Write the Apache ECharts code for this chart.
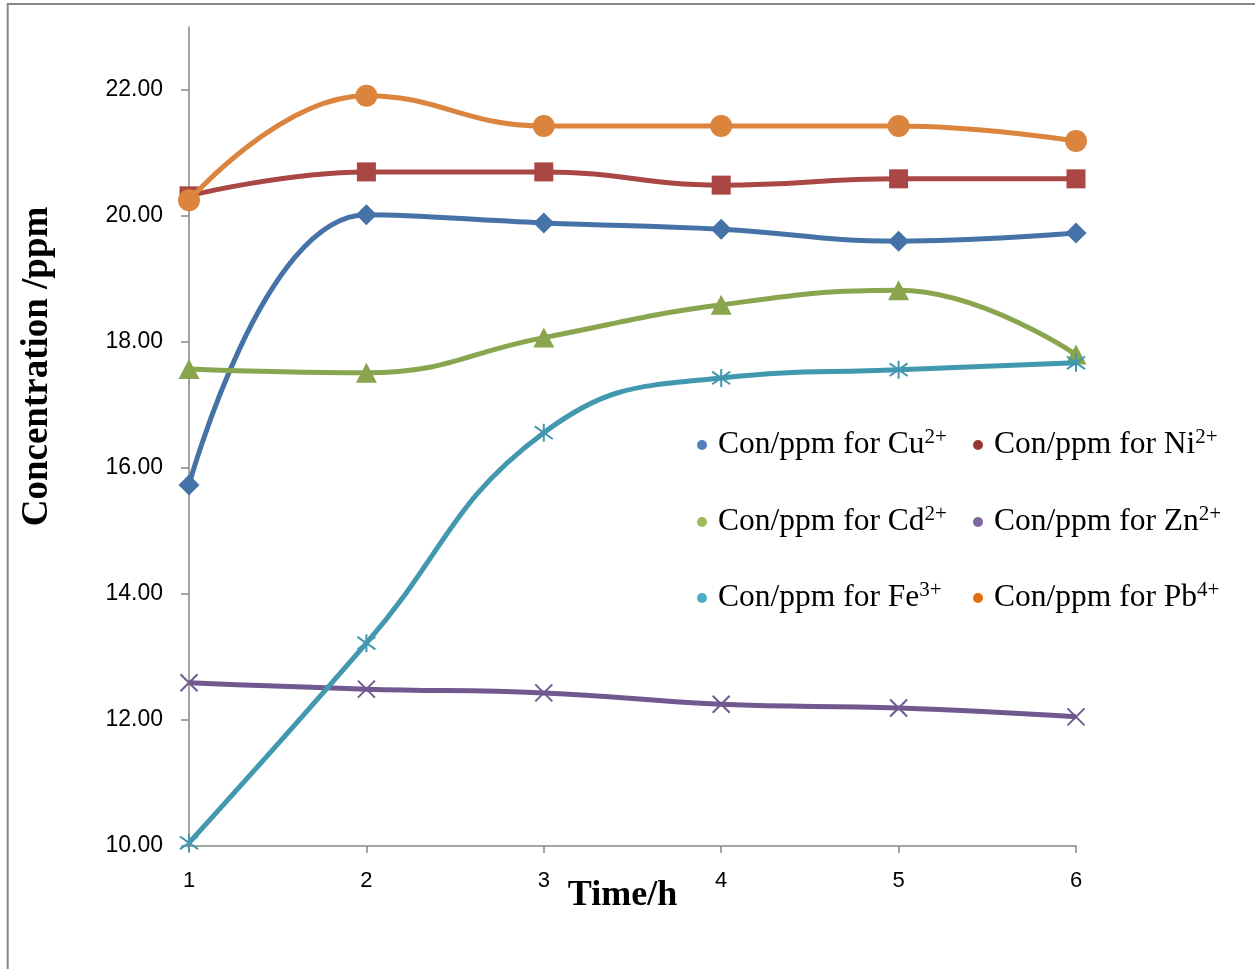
<!DOCTYPE html>
<html>
<head>
<meta charset="utf-8">
<title>Concentration vs time</title>
<script src="https://cdn.jsdelivr.net/npm/echarts@6/dist/echarts.min.js"></script>
<style>
  html, body { margin: 0; padding: 0; background: #ffffff; }
  #chart { width: 1255px; height: 969px; }
</style>
</head>
<body>
<div id="chart"></div>
<script>
// Sampling times (h)
const times = ['1', '2', '3', '4', '5', '6'];

// Concentration (ppm) of each metal ion at each time
const cu = [15.73, 20.02, 19.89, 19.79, 19.60, 19.73];
const ni = [20.32, 20.70, 20.70, 20.49, 20.59, 20.59];
const cd = [17.57, 17.51, 18.07, 18.59, 18.82, 17.80];
const zn = [12.59, 12.49, 12.43, 12.25, 12.19, 12.05];
const fe = [10.05, 13.22, 16.56, 17.43, 17.56, 17.67];
const pb = [20.25, 21.91, 21.43, 21.43, 21.43, 21.19];

// Ion symbols and their charges, in series order
const ions = ['Cu', 'Ni', 'Cd', 'Zn', 'Fe', 'Pb'];
const charges = ['2+', '2+', '2+', '2+', '3+', '4+'];

// Value-axis tick labels
const yTicks = [10, 12, 14, 16, 18, 20, 22];

const seriesData = [cu, ni, cd, zn, fe, pb];
const lineColors = ['#4572A7', '#AA4643', '#89A54E', '#71588F', '#4198AF', '#DB843D'];
const legendColors = ['#4F81BD', '#953735', '#9BBB59', '#8064A2', '#4BACC6', '#E46C0A'];

const crossPath = 'path://M0,0L10,10M10,0L0,10';
const starPath = 'path://M0,1.5L10,8.5M10,1.5L0,8.5M5,0L5,10';
const markers = [
  { symbol: 'diamond', size: [21, 21], stroke: false },
  { symbol: 'rect', size: [19, 19], stroke: false },
  { symbol: 'triangle', size: [21, 20], stroke: false },
  { symbol: crossPath, size: [17, 17], stroke: true },
  { symbol: starPath, size: [18, 18], stroke: true },
  { symbol: 'circle', size: [22, 22], stroke: false }
];

const names = ions.map((ion, i) => 'Con/ppm for ' + ion + charges[i]);

const series = names.map((name, i) => {
  const m = markers[i];
  return {
    name: name,
    type: 'line',
    data: seriesData[i],
    smooth: 0.45,
    symbol: m.symbol,
    symbolSize: m.size,
    showSymbol: true,
    lineStyle: { color: lineColors[i], width: 5 },
    itemStyle: m.stroke
      ? { color: 'rgba(0,0,0,0)', borderColor: lineColors[i], borderWidth: 2 }
      : { color: lineColors[i], borderWidth: 0 },
    emphasis: { disabled: true },
    z: 2 + i
  };
});

// Legend items laid out in two columns and three rows
const colLeft = [697, 973];
const rowTop = [427, 504, 580];
const legends = names.map((name, i) => ({
  left: colLeft[i % 2],
  top: rowTop[Math.floor(i / 2)],
  orient: 'horizontal',
  selectedMode: false,
  icon: 'circle',
  itemWidth: 22,
  itemHeight: 10,
  padding: 0,
  data: [{ name: name, itemStyle: { color: legendColors[i], borderWidth: 0 } }],
  formatter: () => '{b|Con/ppm for ' + ions[i] + '}{s|' + charges[i] + '}',
  textStyle: {
    rich: {
      b: { fontFamily: 'Liberation Serif', fontSize: 31.5, color: '#000', lineHeight: 36 },
      s: { fontFamily: 'Liberation Serif', fontSize: 21, color: '#000', lineHeight: 27, verticalAlign: 'top' }
    }
  }
}));

const chart = echarts.init(document.getElementById('chart'), null, { renderer: 'canvas' });

chart.setOption({
  animation: false,
  backgroundColor: '#ffffff',
  graphic: [{
    type: 'rect',
    shape: { x: 7.7, y: 4, width: 1300, height: 1000 },
    style: { fill: 'none', stroke: '#878787', lineWidth: 2 },
    silent: true,
    z: 0
  }],
  grid: { left: 189, right: 179, top: 27, bottom: 123, containLabel: false },
  legend: legends,
  xAxis: {
    type: 'category',
    data: times,
    boundaryGap: false,
    name: 'Time/h',
    nameLocation: 'middle',
    nameGap: 32,
    nameMoveOverlap: false,
    nameTextStyle: {
      fontFamily: 'Liberation Serif', fontWeight: 'bold', fontSize: 36, color: '#000',
      padding: [0, 20, 0, 0]
    },
    axisLine: { lineStyle: { color: '#868686', width: 1.5 } },
    axisTick: { show: true, length: 7, alignWithLabel: true, lineStyle: { color: '#868686', width: 1.5 } },
    axisLabel: { fontFamily: 'Liberation Sans', fontSize: 22, color: '#000', margin: 24 },
    splitLine: { show: false }
  },
  yAxis: {
    type: 'value',
    min: 10,
    max: 23,
    interval: 2,
    name: 'Concentration /ppm',
    nameLocation: 'middle',
    nameRotate: 90,
    nameGap: 133,
    nameTextStyle: {
      fontFamily: 'Liberation Serif', fontWeight: 'bold', fontSize: 37, color: '#000',
      padding: [0, 0, 0, 140]
    },
    axisLine: { show: true, lineStyle: { color: '#868686', width: 1.5 } },
    axisTick: { show: true, length: 8, customValues: yTicks, lineStyle: { color: '#868686', width: 1.5 } },
    axisLabel: {
      customValues: yTicks,
      fontFamily: 'Liberation Sans', fontSize: 23, color: '#000', margin: 26,
      formatter: v => v.toFixed(2)
    },
    splitLine: { show: false }
  },
  series: series
});
</script>
</body>
</html>
